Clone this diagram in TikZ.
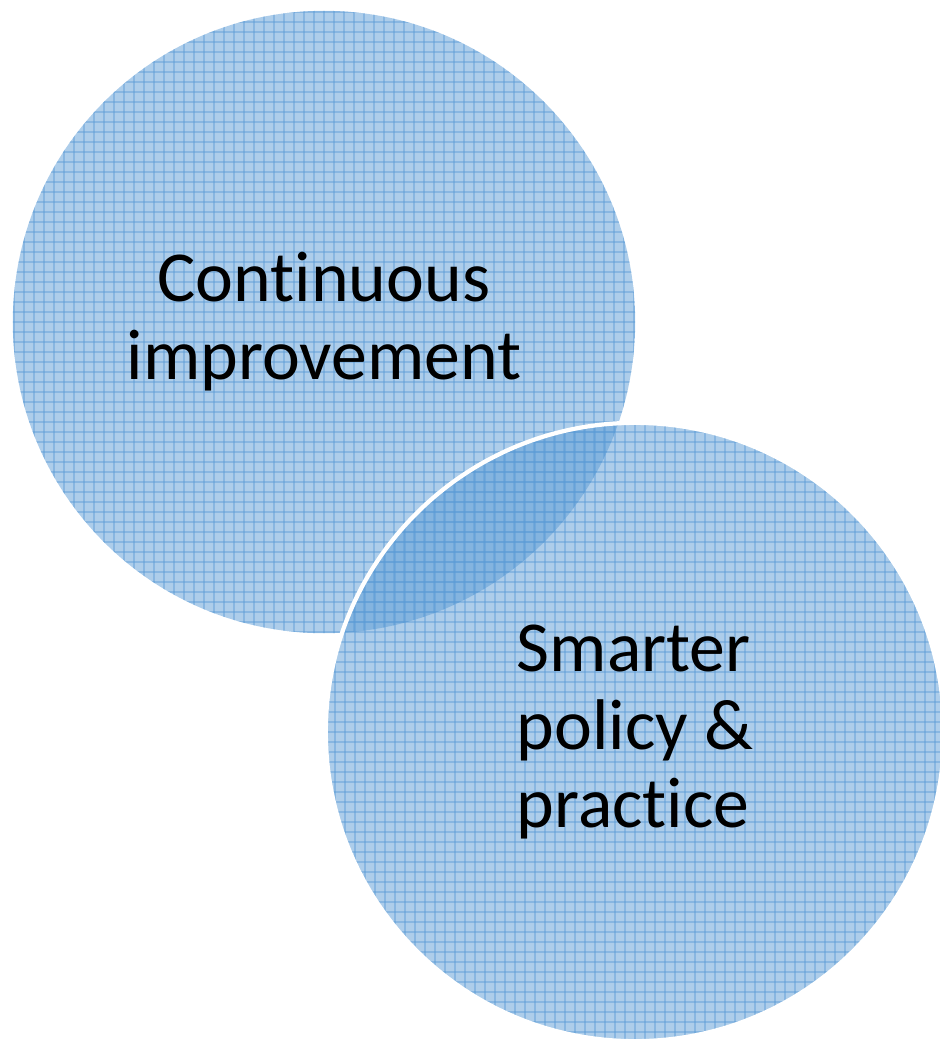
\documentclass[tikz,border=0pt]{standalone}
\usepackage{fontspec}
\setmainfont{Carlito}[Ligatures=NoCommon]
\definecolor{venblue}{RGB}{91,155,213}
\tikzset{
  bubble/.style={circle, inner sep=0pt, fill=venblue, fill opacity=0.5, text opacity=1,
    font=\fontsize{20.4}{22.2}\selectfont,
    path picture={
      \foreach \k in {-32,...,32}{
        \draw[venblue, line width=0.6pt, draw opacity=0.45]
          (path picture bounding box.center) ++(\k*10,-320) -- ++(0,640);
        \draw[venblue, line width=0.6pt, draw opacity=0.45]
          (path picture bounding box.center) ++(-320,\k*10) -- ++(640,0);
      }
    }},
}
\begin{document}
\begin{tikzpicture}[x=0.01cm,y=-0.01cm]
      \useasboundingbox (0,0) rectangle (940,1044);
      %%%%%%%%%%%%%%%%%%%%%%%%%%%%%%%%%%%%%%%%%%%%%%%
      \node[bubble, minimum size=6.22cm, align=center] at (324,322) (cont)
        {Continuous\\improvement};
      %%%%%%%%%%%%%%%%%%%%%%%%%%%%%%%%%%%%%%%%%%%%%%%
      \node[bubble, minimum size=6.18cm, draw=white, draw opacity=1, line width=1.2pt,
            align=left] at (635,732) (smart)
        {Smarter\\policy \&\\practice};
      %%%%%%%%%%%%%%%%%%%%%%%%%%%%%%%%%%%%%%%%%%%%%%%
\end{tikzpicture}
\end{document}
